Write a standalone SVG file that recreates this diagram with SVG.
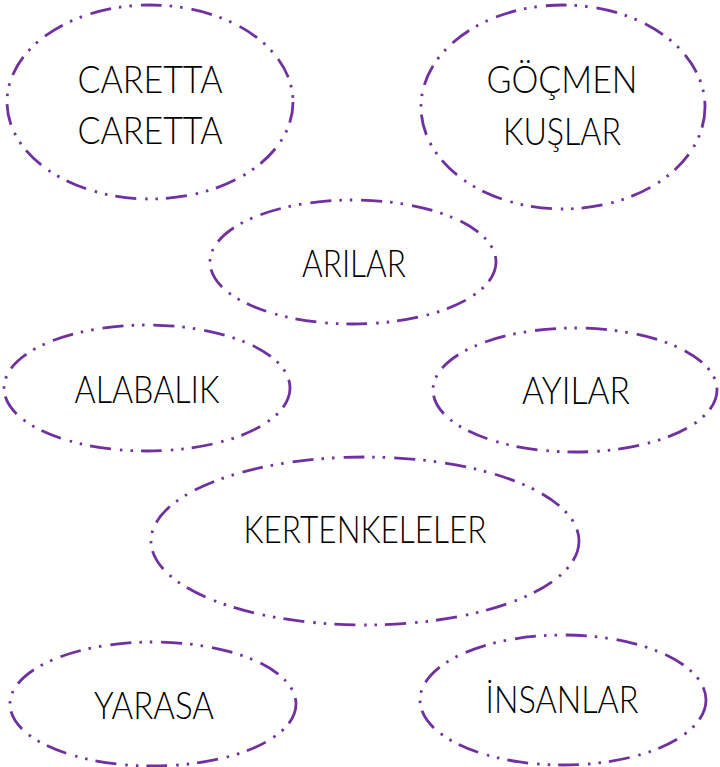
<svg xmlns="http://www.w3.org/2000/svg" width="720" height="767" viewBox="0 0 720 767">
<style>
.e{fill:#fff;stroke:#7030A0;stroke-width:2.8;stroke-dasharray:21 8 2.5 8 2.5 9}
.t{font-family:Lato,"Liberation Sans",sans-serif;font-weight:300;font-size:38px;fill:#000;text-anchor:middle}
</style>
<rect width="720" height="767" fill="#fff"/>
<g id="connectors"></g>
<g id="n1"><ellipse class="e" cx="150" cy="102" rx="143" ry="97"/><text class="t" x="150" y="93" textLength="145" lengthAdjust="spacingAndGlyphs">CARETTA</text><text class="t" x="150" y="144" textLength="145" lengthAdjust="spacingAndGlyphs">CARETTA</text></g>
<g id="n2"><ellipse class="e" cx="563" cy="107" rx="142" ry="102"/><text class="t" x="562" y="93" textLength="151" lengthAdjust="spacingAndGlyphs">GÖÇMEN</text><text class="t" x="562" y="145" textLength="118" lengthAdjust="spacingAndGlyphs">KUŞLAR</text></g>
<g id="n3"><ellipse class="e" cx="353" cy="262" rx="143" ry="62"/><text class="t" x="354" y="277" textLength="104" lengthAdjust="spacingAndGlyphs">ARILAR</text></g>
<g id="n4"><ellipse class="e" cx="147" cy="388" rx="143" ry="63"/><text class="t" x="147" y="403" textLength="145" lengthAdjust="spacingAndGlyphs">ALABALIK</text></g>
<g id="n5"><ellipse class="e" cx="575" cy="390" rx="142" ry="62"/><text class="t" x="576" y="404" textLength="108" lengthAdjust="spacingAndGlyphs">AYILAR</text></g>
<g id="n6"><ellipse class="e" cx="365" cy="541" rx="214" ry="84"/><text class="t" x="365" y="543" textLength="243" lengthAdjust="spacingAndGlyphs">KERTENKELELER</text></g>
<g id="n7"><ellipse class="e" cx="153" cy="704" rx="143" ry="62"/><text class="t" x="154" y="719" textLength="120" lengthAdjust="spacingAndGlyphs">YARASA</text></g>
<g id="n8"><ellipse class="e" cx="563" cy="700" rx="143" ry="65"/><text class="t" x="562" y="713" textLength="153" lengthAdjust="spacingAndGlyphs">İNSANLAR</text></g>
</svg>
